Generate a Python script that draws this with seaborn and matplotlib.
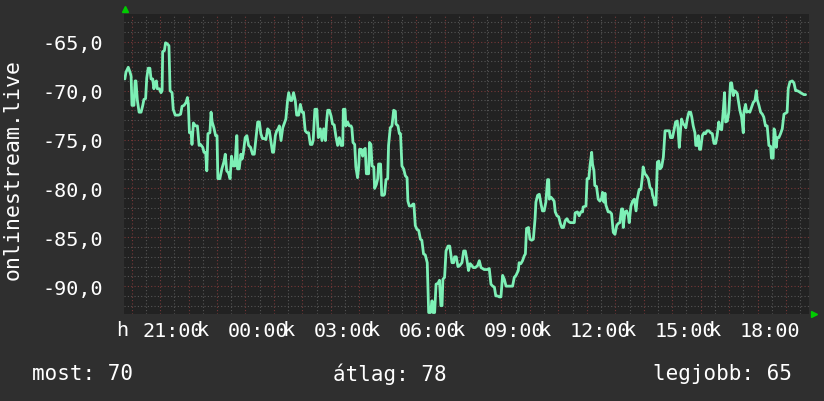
import numpy as np
import pandas as pd
import matplotlib
matplotlib.use('Agg')
import matplotlib.pyplot as plt
import seaborn as sns

# idő (órában, 24 felett = következő nap) és jelszint értékek
hours = [
    18.76, 18.80, 18.88, 18.94, 18.98, 19.01, 19.08, 19.12, 19.15, 19.20, 19.26, 19.33, 19.39, 19.43, 19.49,
    19.53, 19.58, 19.64, 19.68, 19.74, 19.78, 19.83, 19.87, 19.90, 19.97, 20.03, 20.07, 20.09, 20.15, 20.19,
    20.25, 20.31, 20.35, 20.42, 20.46, 20.53, 20.65, 20.72, 20.77, 20.84, 20.91, 20.96, 20.99, 21.03, 21.09,
    21.12, 21.17, 21.24, 21.31, 21.37, 21.42, 21.50, 21.54, 21.60, 21.64, 21.68, 21.75, 21.79, 21.83, 21.89,
    21.95, 22.00, 22.03, 22.10, 22.17, 22.24, 22.29, 22.34, 22.40, 22.46, 22.51, 22.57, 22.63, 22.69, 22.70,
    22.72, 22.78, 22.84, 22.88, 22.92, 22.99, 23.05, 23.11, 23.18, 23.25, 23.31, 23.37, 23.43, 23.49, 23.54,
    23.60, 23.66, 23.72, 23.78, 23.84, 23.90, 23.95, 23.99, 24.05, 24.10, 24.15, 24.19, 24.25, 24.31, 24.36,
    24.42, 24.48, 24.52, 24.58, 24.63, 24.69, 24.75, 24.80, 24.87, 24.93, 24.99, 25.04, 25.10, 25.16, 25.22,
    25.28, 25.34, 25.38, 25.44, 25.51, 25.56, 25.63, 25.69, 25.75, 25.81, 25.85, 25.89, 25.95, 26.01, 26.06,
    26.12, 26.18, 26.24, 26.30, 26.36, 26.42, 26.44, 26.50, 26.53, 26.59, 26.65, 26.71, 26.74, 26.78, 26.84,
    26.88, 26.94, 26.98, 27.01, 27.07, 27.12, 27.15, 27.21, 27.25, 27.33, 27.36, 27.41, 27.45, 27.51, 27.54,
    27.60, 27.65, 27.68, 27.75, 27.79, 27.86, 27.89, 27.94, 28.00, 28.03, 28.09, 28.15, 28.21, 28.27, 28.29,
    28.36, 28.41, 28.45, 28.50, 28.56, 28.62, 28.68, 28.71, 28.76, 28.83, 28.89, 28.92, 28.97, 29.03, 29.09,
    29.15, 29.20, 29.26, 29.32, 29.39, 29.44, 29.50, 29.56, 29.59, 29.65, 29.70, 29.77, 29.82, 29.87, 29.91,
    29.94, 30.00, 30.05, 30.12, 30.18, 30.26, 30.32, 30.35, 30.41, 30.47, 30.53, 30.61, 30.67, 30.73, 30.79,
    30.84, 30.90, 30.96, 31.01, 31.08, 31.16, 31.22, 31.28, 31.34, 31.39, 31.51, 31.57, 31.63, 31.69, 31.75,
    31.80, 31.86, 31.92, 31.98, 32.04, 32.10, 32.16, 32.21, 32.39, 32.45, 32.51, 32.59, 32.62, 32.68, 32.74,
    32.80, 32.84, 32.88, 32.95, 33.00, 33.06, 33.12, 33.18, 33.21, 33.27, 33.33, 33.39, 33.44, 33.50, 33.56,
    33.62, 33.66, 33.68, 33.74, 33.80, 33.85, 33.89, 33.95, 34.01, 34.07, 34.12, 34.18, 34.24, 34.30, 34.36,
    34.42, 34.50, 34.56, 34.59, 34.67, 34.73, 34.79, 34.85, 34.87, 34.97, 35.01, 35.07, 35.11, 35.17, 35.20,
    35.25, 35.28, 35.34, 35.40, 35.46, 35.52, 35.55, 35.60, 35.64, 35.67, 35.75, 35.81, 35.87, 35.93, 35.99,
    36.05, 36.10, 36.16, 36.22, 36.26, 36.28, 36.34, 36.40, 36.46, 36.49, 36.55, 36.61, 36.67, 36.73, 36.77,
    36.84, 36.90, 36.95, 36.98, 37.04, 37.10, 37.16, 37.22, 37.28, 37.31, 37.36, 37.39, 37.43, 37.48, 37.53,
    37.57, 37.63, 37.69, 37.75, 37.83, 37.90, 37.94, 38.01, 38.06, 38.12, 38.18, 38.21, 38.25, 38.30, 38.33,
    38.39, 38.45, 38.48, 38.53, 38.59, 38.65, 38.69, 38.74, 38.80, 38.83, 38.88, 38.92, 38.96, 39.00, 39.06,
    39.12, 39.17, 39.23, 39.29, 39.35, 39.41, 39.47, 39.53, 39.58, 39.64, 39.68, 39.74, 39.80, 39.84, 39.88,
    39.94, 39.99, 40.05, 40.09, 40.15, 40.19, 40.24, 40.29, 40.32, 40.38, 40.44, 40.50, 40.52, 40.58, 40.62,
    40.67, 40.73, 40.79, 40.85, 40.91, 40.96, 40.99, 41.05, 41.11, 41.17, 41.22, 41.28, 41.34, 41.40, 41.46,
    41.49, 41.55, 41.58, 41.61, 41.66, 41.69, 41.75, 41.81, 41.87, 41.93, 41.99, 42.04, 42.08, 42.14, 42.22,
    42.28, 42.34, 42.40, 42.46, 42.51, 42.57, 42.63, 42.69,
]
values = [
    -68.8, -68.1, -67.6, -68.1, -68.5, -71.5, -71.5, -69.0, -69.0, -71.0, -72.2, -72.2, -71.5, -70.9, -70.8,
    -68.7, -67.7, -67.7, -68.8, -68.8, -69.8, -69.1, -69.0, -69.8, -69.8, -70.2, -70.0, -66.0, -65.9, -65.1,
    -65.2, -65.4, -70.0, -70.2, -71.9, -72.5, -72.5, -72.4, -71.6, -71.5, -71.2, -70.7, -71.3, -74.3, -74.3,
    -75.5, -73.3, -73.6, -73.6, -75.6, -75.5, -75.8, -76.3, -76.3, -78.2, -74.4, -74.3, -72.2, -73.2, -73.8,
    -74.6, -74.6, -79.0, -79.0, -78.0, -77.3, -76.5, -78.2, -78.4, -79.0, -76.7, -77.7, -77.7, -74.6, -74.6,
    -78.0, -78.0, -76.5, -77.0, -76.5, -74.8, -74.6, -75.6, -75.8, -76.5, -76.5, -74.8, -73.2, -73.2, -74.4,
    -74.9, -74.9, -75.0, -73.9, -74.1, -75.3, -76.3, -76.3, -74.6, -74.1, -73.9, -73.6, -75.1, -73.8, -73.4,
    -72.9, -71.0, -70.2, -71.0, -71.0, -70.2, -71.0, -72.5, -72.5, -71.4, -72.2, -72.2, -74.1, -74.3, -74.3,
    -75.5, -75.5, -75.1, -71.9, -71.9, -74.8, -73.9, -75.1, -73.9, -75.1, -73.2, -72.0, -72.0, -72.6, -73.4,
    -73.5, -74.7, -75.6, -74.8, -75.6, -75.6, -71.9, -71.9, -73.6, -73.2, -73.6, -73.6, -73.8, -75.3, -75.5,
    -77.8, -78.9, -77.8, -76.0, -76.0, -76.7, -76.1, -75.9, -78.5, -78.5, -75.3, -75.5, -77.7, -77.8, -80.0,
    -79.6, -79.0, -77.5, -77.5, -80.7, -80.7, -80.6, -79.1, -79.0, -75.6, -73.8, -73.6, -72.0, -72.1, -73.4,
    -73.6, -74.4, -74.4, -77.7, -78.0, -78.7, -78.9, -81.3, -81.8, -81.8, -81.6, -81.6, -83.8, -84.2, -84.3,
    -85.2, -85.3, -86.7, -86.8, -87.6, -92.7, -92.7, -91.5, -92.7, -92.7, -89.8, -89.7, -89.4, -92.0, -92.0,
    -89.3, -89.1, -86.4, -85.9, -85.9, -87.6, -87.6, -87.0, -87.0, -88.0, -87.9, -87.6, -86.4, -86.4, -87.4,
    -88.4, -87.7, -87.9, -88.1, -88.1, -87.9, -87.4, -88.1, -88.2, -88.3, -88.3, -88.2, -89.8, -90.0, -90.1,
    -91.0, -91.0, -91.1, -91.1, -88.9, -89.3, -90.0, -90.0, -90.0, -89.1, -88.9, -88.4, -87.6, -87.7, -87.4,
    -86.9, -86.7, -84.1, -84.0, -85.2, -85.3, -85.2, -83.1, -81.4, -80.7, -80.6, -81.6, -82.3, -82.3, -81.4,
    -79.1, -79.1, -81.1, -80.9, -81.1, -81.3, -82.4, -82.8, -82.9, -83.6, -84.0, -84.0, -83.3, -83.1, -83.4,
    -83.5, -83.5, -83.5, -82.5, -82.4, -82.8, -82.4, -82.4, -81.9, -81.8, -79.0, -79.0, -77.7, -76.3, -77.5,
    -78.2, -79.7, -79.8, -81.1, -81.3, -81.0, -80.4, -81.4, -80.5, -81.7, -82.4, -82.4, -82.6, -84.5, -84.7,
    -83.8, -83.6, -83.5, -82.1, -82.1, -84.0, -82.4, -82.3, -82.8, -83.5, -81.8, -81.3, -81.1, -82.3, -81.1,
    -80.1, -80.1, -78.9, -77.8, -78.5, -78.7, -79.0, -79.9, -80.1, -80.7, -81.1, -81.7, -81.7, -77.3, -77.2,
    -78.0, -77.8, -76.8, -74.1, -74.1, -74.1, -74.8, -74.8, -74.1, -73.2, -73.1, -74.1, -75.8, -73.8, -72.9,
    -73.4, -73.6, -73.8, -72.9, -72.2, -72.2, -72.7, -73.6, -74.3, -75.6, -75.6, -74.6, -76.0, -76.0, -74.6,
    -74.3, -74.4, -74.1, -74.1, -74.3, -74.4, -75.4, -75.4, -74.6, -73.2, -73.9, -74.0, -71.9, -70.2, -73.2,
    -73.1, -72.2, -69.2, -69.2, -70.5, -70.0, -70.1, -70.3, -70.9, -72.0, -72.7, -74.3, -72.2, -71.4, -72.2,
    -72.1, -72.2, -71.7, -71.2, -71.0, -70.0, -70.9, -71.5, -72.2, -72.4, -72.7, -73.6, -73.6, -75.6, -75.7,
    -76.9, -76.9, -73.9, -74.1, -75.8, -74.8, -74.8, -74.4, -73.9, -72.4, -72.3, -72.2, -69.8, -69.1, -69.0,
    -69.2, -70.0, -70.0, -70.1, -70.2, -70.3, -70.4, -70.4,
]

y_ticks = [-90, -85, -80, -75, -70, -65]
x_label_pos = [20.45, 23.45, 26.45, 29.45, 32.45, 35.45, 38.45, 41.45]
x_labels = ['21:00', '00:00', '03:00', '06:00', '09:00', '12:00', '15:00', '18:00']
summary = ['most: 70', 'átlag: 78', 'legjobb: 65']

bg = '#2f2f2f'
plot_bg = '#222222'
line_color = '#7df0b6'

sns.set_style('dark')
plt.rcParams['font.family'] = ['DejaVu Sans Mono']

df = pd.DataFrame({'ora': hours, 'ertek': values})

fig = plt.figure(figsize=(8.24, 4.02), dpi=100, facecolor=bg)
ax = fig.add_axes([124 / 824, 1 - 315 / 402, (809 - 124) / 824, (315 - 14.5) / 402])
ax.set_facecolor(plot_bg)

xmin, xmax = 18.73, 42.81
ymin, ymax = -92.85, -62.1

# rács: szürke sűrű, piros fő
for h in np.arange(19.5, 43, 1.0):
    ax.axvline(h, color='#555555', lw=0.8, ls=(0, (1, 2)), zorder=1)
for v in np.arange(-92, -62, 1.0):
    if v % 5 != 0:
        ax.axhline(v, color='#555555', lw=0.8, ls=(0, (1, 2)), zorder=1)
for h in np.arange(19, 43, 1.0):
    ax.axvline(h, color='#773838', lw=0.8, ls=(0, (1, 2)), zorder=1)
for v in y_ticks:
    ax.axhline(v, color='#773838', lw=0.8, ls=(0, (1, 2)), zorder=1)

sns.lineplot(data=df, x='ora', y='ertek', ax=ax, color=line_color, lw=2.0,
             estimator=None, sort=False, zorder=3)

ax.set_xlim(xmin, xmax)
ax.set_ylim(ymin, ymax)
ax.grid(False)
for s in ax.spines.values():
    s.set_visible(False)

ax.set_yticks(y_ticks)
ax.set_yticklabels([f'{v:.1f}'.replace('.', ',') for v in y_ticks])
ax.set_xticks(x_label_pos)
ax.set_xticklabels(x_labels)
ax.tick_params(axis='both', colors='white', labelsize=14.5, length=0)
ax.tick_params(axis='y', pad=15)
ax.tick_params(axis='x', pad=5)
ax.set_xlabel('')
ax.set_ylabel('onlinestream.live', color='white', fontsize=15.5, va='center')
ax.yaxis.set_label_coords(-(124 - 13) / 685, 0.485)

# átfedő "k" és "h" karakterek a tengelyfeliratoknál
for p in x_label_pos[:-1]:
    ax.text(p + 0.84, -0.05, 'k', transform=ax.get_xaxis_transform(), color='white',
            fontsize=14.5, ha='left', va='center', clip_on=False)
ax.text(18.45, -0.05, 'h', transform=ax.get_xaxis_transform(), color='white',
        fontsize=14.5, ha='left', va='center', clip_on=False)

# zöld nyilak a tengelyek végén
ax.plot([0.0015], [1.015], marker='^', color='#00cc00', ms=4, transform=ax.transAxes, clip_on=False)
ax.plot([1.007], [0.0], marker='>', color='#00cc00', ms=4, transform=ax.transAxes, clip_on=False)

fig.text(32 / 824, 1 - 374 / 402, summary[0], color='white', fontsize=15, ha='left', va='center')
fig.text(333 / 824, 1 - 374 / 402, summary[1], color='white', fontsize=15, ha='left', va='center')
fig.text(792 / 824, 1 - 374 / 402, summary[2], color='white', fontsize=15, ha='right', va='center')

fig.savefig('out.png', dpi=100, facecolor=bg)
